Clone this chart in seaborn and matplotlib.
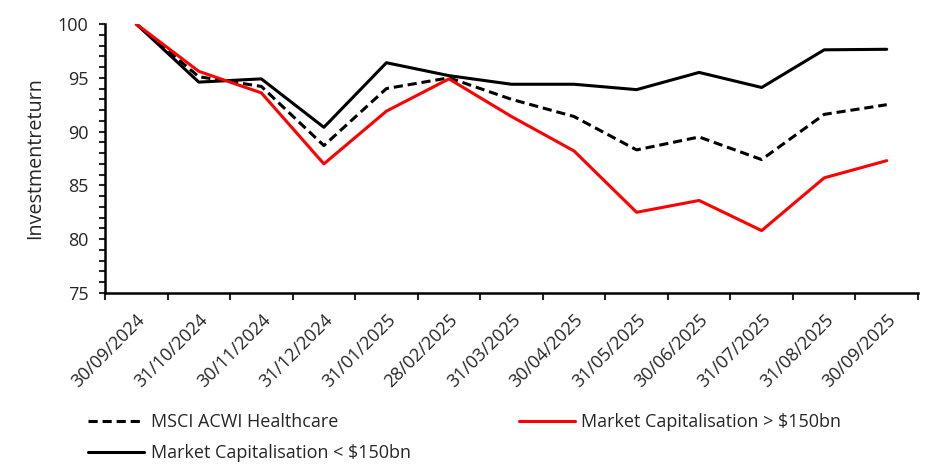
import matplotlib
matplotlib.use("Agg")
import matplotlib.pyplot as plt
import seaborn as sns
import pandas as pd
import numpy as np
from matplotlib.ticker import FixedLocator

dates = ["30/09/2024", "31/10/2024", "30/11/2024", "31/12/2024", "31/01/2025",
         "28/02/2025", "31/03/2025", "30/04/2025", "31/05/2025", "30/06/2025",
         "31/07/2025", "31/08/2025", "30/09/2025"]
msci = [100, 95.1, 94.2, 88.7, 94.0, 95.0, 93.0, 91.4, 88.3, 89.5, 87.4, 91.6, 92.5]
large = [100, 95.6, 93.6, 87.0, 91.9, 94.9, 91.4, 88.2, 82.5, 83.6, 80.8, 85.7, 87.3]
small = [100, 94.6, 94.9, 90.4, 96.4, 95.2, 94.4, 94.4, 93.9, 95.5, 94.1, 97.6, 97.65]

n_msci = "MSCI ACWI Healthcare"
n_large = "Market Capitalisation > $150bn"
n_small = "Market Capitalisation < $150bn"

sns.set_style("white")
plt.rcParams['font.family'] = ['Open Sans', 'DejaVu Sans']
FS = 13

idx = np.arange(len(dates))
df = pd.concat([
    pd.DataFrame({"x": idx, "v": msci, "s": n_msci}),
    pd.DataFrame({"x": idx, "v": large, "s": n_large}),
    pd.DataFrame({"x": idx, "v": small, "s": n_small}),
])

fig = plt.figure(figsize=(9.42, 4.72), dpi=100)
ax = fig.add_axes([105/942, 1 - 293/472, (918 - 105)/942, (293 - 24)/472])

sns.lineplot(data=df, x="x", y="v", hue="s", style="s",
             hue_order=[n_msci, n_small, n_large],
             palette={n_msci: "black", n_large: "#ff0000", n_small: "black"},
             dashes={n_msci: (3, 1.6), n_large: "", n_small: ""},
             linewidth=2.2, ax=ax, legend=True)

ax.set_xlim(-0.5, len(dates) - 0.5)
ax.set_ylim(75, 100)
ax.set_yticks([75, 80, 85, 90, 95, 100])
ax.yaxis.set_minor_locator(FixedLocator(np.arange(75, 101, 1)))
ax.set_xticks(np.arange(-0.5, len(dates), 1))
ax.set_xticklabels([])
ax.set_xticks(idx, minor=True)
ax.set_xticklabels(dates, minor=True, rotation=45, ha="right", rotation_mode="anchor",
                   fontsize=FS)
ax.tick_params(axis="x", which="minor", length=0, pad=13)
ax.tick_params(axis="x", which="major", length=5, width=1.5, direction="out", bottom=True)
ax.tick_params(axis="y", which="both", length=4, width=1.5, direction="out", left=True)
ax.tick_params(axis="y", which="major", labelsize=FS, pad=8)

for s in ["top", "right"]:
    ax.spines[s].set_visible(False)
for s in ["left", "bottom"]:
    ax.spines[s].set_linewidth(1.8)
    ax.spines[s].set_color("black")

ax.set_xlabel("")
ax.set_ylabel("Investmentreturn", fontsize=14.2, labelpad=9)

handles, labels = ax.get_legend_handles_labels()
ax.get_legend().remove()
fig.legend(handles, labels, ncol=2, loc="lower left",
           bbox_to_anchor=(72/942, -0.0135), frameon=False, fontsize=FS,
           handlelength=3.1, columnspacing=6.0, labelspacing=0.72, handletextpad=0.35)

fig.savefig("out.png", dpi=100)
